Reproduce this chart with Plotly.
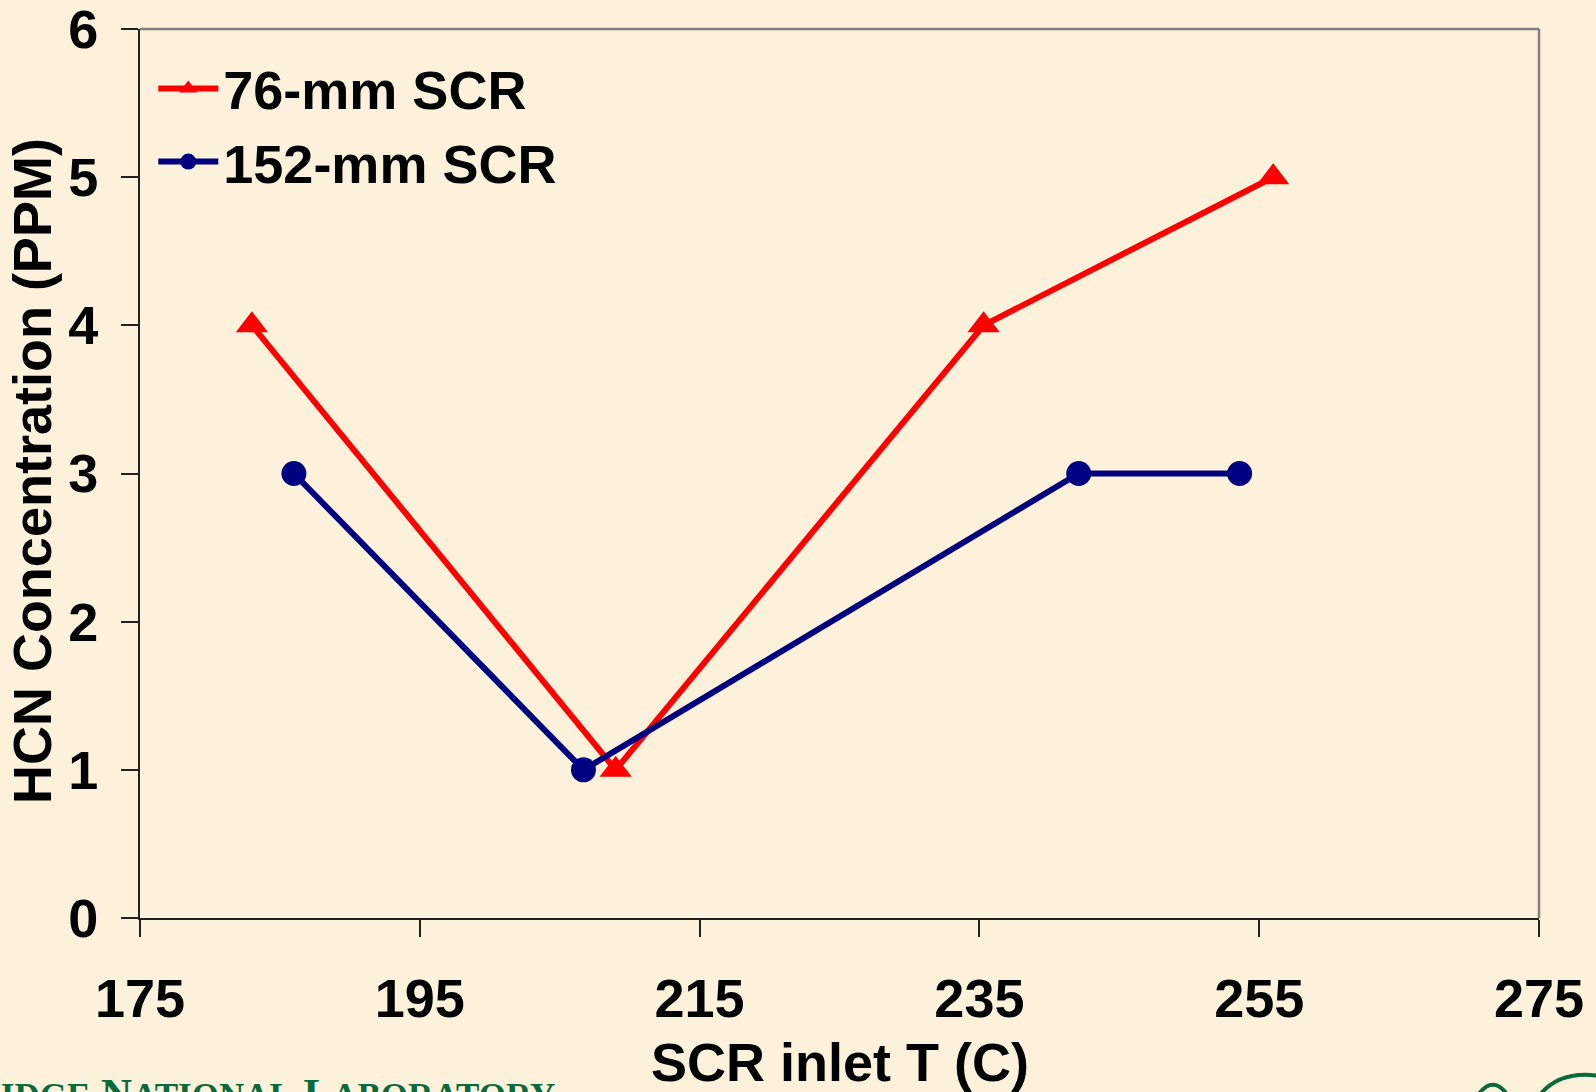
import plotly.graph_objects as go

# Data
red_name = "76-mm SCR"
red_x = [183, 209, 235.3, 256]
red_y = [4, 1, 4, 5]

blue_name = "152-mm SCR"
blue_x = [186, 206.7, 242.1, 253.6]
blue_y = [3, 1, 3, 3]

x_title = "SCR inlet T (C)"
y_title = "HCN Concentration (PPM)"
footer = ("O<span style='font-size:35px'>AK</span> R<span style='font-size:35px'>IDGE</span> "
          "N<span style='font-size:35px'>ATIONAL</span> L<span style='font-size:35px'>ABORATORY</span>")

BG = "#FCF1DA"
FONT = "Liberation Sans, Arial, sans-serif"

fig = go.Figure()
fig.add_trace(go.Scatter(
    x=red_x, y=red_y, name=red_name, mode="lines+markers",
    line=dict(color="#FF0000", width=6),
    marker=dict(symbol="triangle-up", size=28, color="#FF0000"),
))
fig.add_trace(go.Scatter(
    x=blue_x, y=blue_y, name=blue_name, mode="lines+markers",
    line=dict(color="#000080", width=6),
    marker=dict(symbol="circle", size=25, color="#000080"),
))

axis_font = dict(family=FONT, size=54, color="black", weight="bold")

fig.update_layout(
    width=1596, height=1092,
    margin=dict(l=140, r=57, t=29, b=174, autoexpand=False),
    paper_bgcolor=BG, plot_bgcolor=BG,
    font=dict(family=FONT, color="black"),
    showlegend=True,
    legend=dict(
        x=0.0095, y=0.98, xanchor="left", yanchor="top",
        bgcolor="rgba(0,0,0,0)", borderwidth=0,
        font=dict(family=FONT, size=54, color="black", weight="bold"),
        itemwidth=60, tracegroupgap=0,
    ),
    xaxis=dict(
        range=[175, 275], tick0=175, dtick=20, tickmode="linear",
        showgrid=False, zeroline=False,
        showline=True, linecolor="#222222", linewidth=2,
        ticks="outside", ticklen=17, tickwidth=1.5, tickcolor="#222222",
        tickfont=axis_font, ticklabelstandoff=15, ticklabeloverflow="allow",
        automargin=False,
    ),
    yaxis=dict(
        range=[0, 6], tick0=0, dtick=1, tickmode="linear",
        showgrid=False, zeroline=False,
        showline=True, linecolor="#222222", linewidth=2,
        ticks="outside", ticklen=17, tickwidth=1.5, tickcolor="#222222",
        tickfont=axis_font, ticklabelstandoff=12, ticklabeloverflow="allow",
        automargin=False,
    ),
    shapes=[
        dict(type="line", xref="x domain", yref="y domain", x0=0, x1=1, y0=1, y1=1,
             line=dict(color="#808080", width=2.5)),
        dict(type="line", xref="x domain", yref="y domain", x0=1, x1=1, y0=0, y1=1,
             line=dict(color="#808080", width=2.5)),
        # partial logo at the bottom-right corner
        dict(type="path", xref="paper", yref="paper",
             path="M 0.956,-0.2 Q 0.967,-0.175 0.978,-0.2",
             line=dict(color="#0B6A3B", width=4)),
        dict(type="path", xref="paper", yref="paper",
             path="M 1.0,-0.2 Q 1.015,-0.17 1.045,-0.178",
             line=dict(color="#0B6A3B", width=4)),
    ],
    annotations=[
        dict(text=x_title, xref="paper", yref="paper", x=0.5, y=-0.162,
             xanchor="center", yanchor="middle", showarrow=False, font=axis_font),
        dict(text=y_title, xref="paper", yref="paper", x=-0.077, y=0.503,
             xanchor="center", yanchor="middle", textangle=-90, showarrow=False,
             font=axis_font),
        dict(text=footer, xref="paper", yref="paper", x=(557 - 140) / 1399, y=-0.169,
             xanchor="right", yanchor="top", showarrow=False,
             font=dict(family="Liberation Serif, Times New Roman, serif", size=43,
                       color="#0B6A3B", weight="bold")),
    ],
)

fig.write_html("out.html")
